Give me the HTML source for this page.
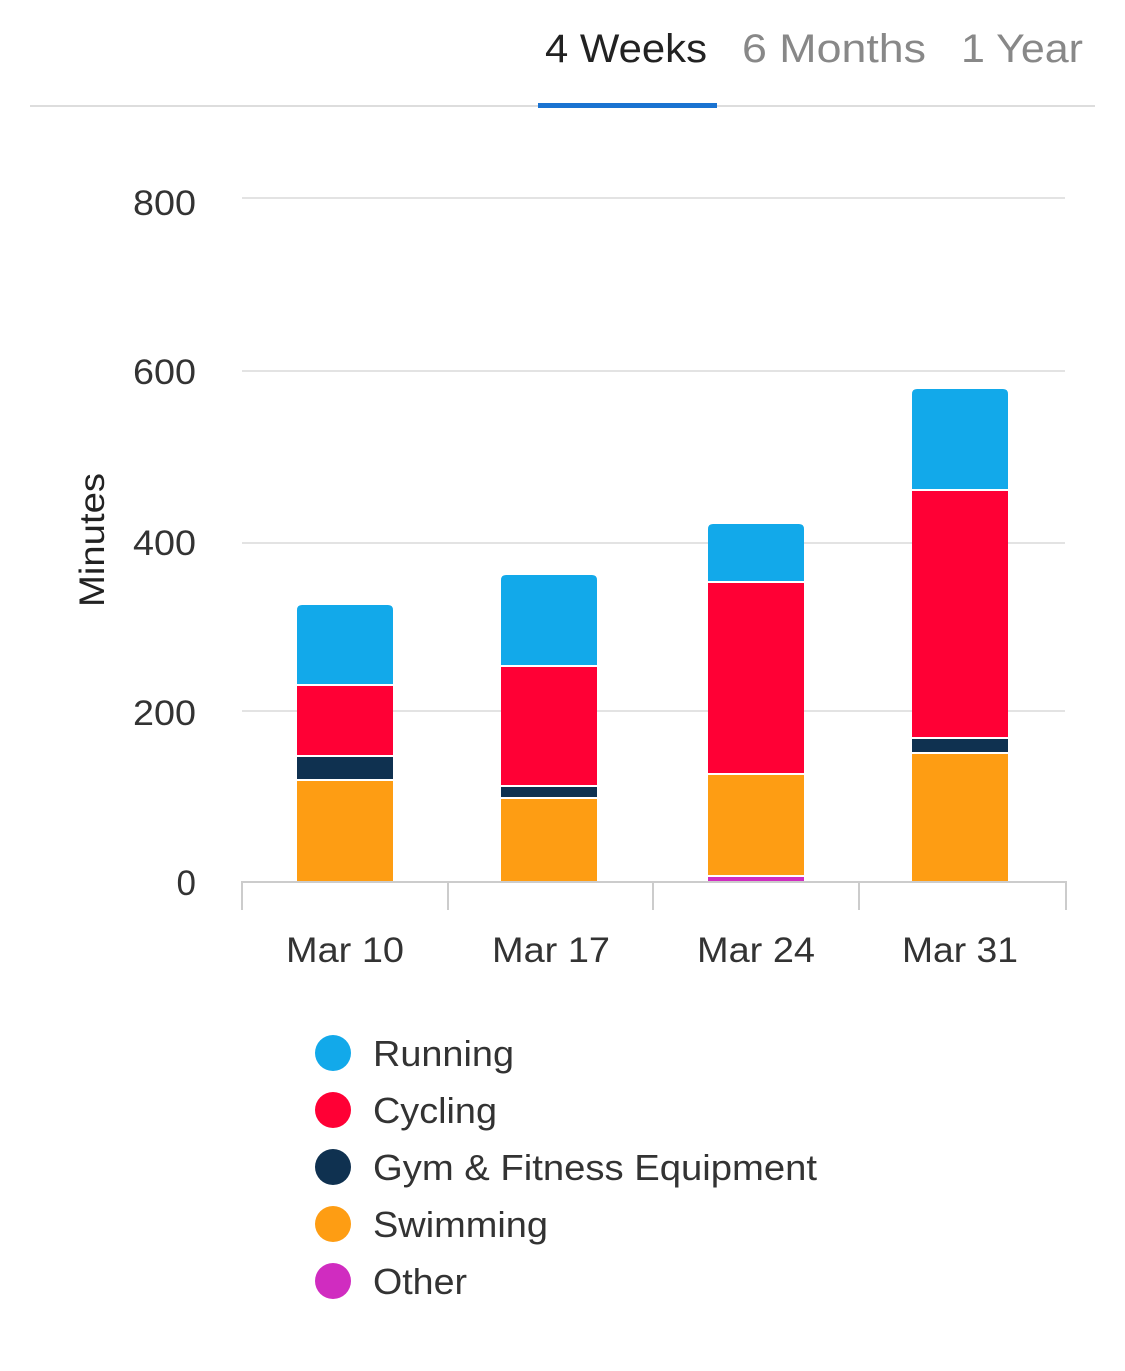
<!DOCTYPE html>
<html><head><meta charset="utf-8"><style>
html,body{margin:0;padding:0;background:#fff;}
svg{display:block;font-family:"Liberation Sans",sans-serif;}
</style></head><body>
<svg width="1125" height="1371" viewBox="0 0 1125 1371" xmlns="http://www.w3.org/2000/svg">
<text x="545" y="62" font-size="40" fill="#222" textLength="162" lengthAdjust="spacingAndGlyphs">4 Weeks</text>
<text x="742" y="62" font-size="40" fill="#888" textLength="184" lengthAdjust="spacingAndGlyphs">6 Months</text>
<text x="961" y="62" font-size="40" fill="#888" textLength="122" lengthAdjust="spacingAndGlyphs">1 Year</text>
<rect x="30" y="105" width="1065" height="2" fill="#ddd"/>
<rect x="538" y="103" width="179" height="5" fill="#1a73d1"/>
<g stroke="#e3e3e3" stroke-width="2">
<line x1="242" y1="198" x2="1065" y2="198"/>
<line x1="242" y1="371" x2="1065" y2="371"/>
<line x1="242" y1="543" x2="1065" y2="543"/>
<line x1="242" y1="711" x2="1065" y2="711"/>
</g>
<g font-size="35" fill="#333" text-anchor="end">
<text x="196" y="215" textLength="63" lengthAdjust="spacingAndGlyphs">800</text>
<text x="196" y="384" textLength="63" lengthAdjust="spacingAndGlyphs">600</text>
<text x="196" y="555" textLength="63" lengthAdjust="spacingAndGlyphs">400</text>
<text x="196" y="725" textLength="63" lengthAdjust="spacingAndGlyphs">200</text>
<text x="196" y="895">0</text>
</g>
<text transform="translate(104,540) rotate(-90)" font-size="35" fill="#222" text-anchor="middle" textLength="134" lengthAdjust="spacingAndGlyphs">Minutes</text>
<path d="M297,684 V610 q0,-5 5,-5 H388 q5,0 5,5 V684 Z" fill="#12a9ea"/>
<rect x="297" y="686" width="96" height="69" fill="#ff0035"/>
<rect x="297" y="757" width="96" height="22" fill="#0f3150"/>
<rect x="297" y="781" width="96" height="101" fill="#fe9d13"/>
<path d="M501,665 V580 q0,-5 5,-5 H592 q5,0 5,5 V665 Z" fill="#12a9ea"/>
<rect x="501" y="667" width="96" height="118" fill="#ff0035"/>
<rect x="501" y="787" width="96" height="10" fill="#0f3150"/>
<rect x="501" y="799" width="96" height="83" fill="#fe9d13"/>
<path d="M708,581 V529 q0,-5 5,-5 H799 q5,0 5,5 V581 Z" fill="#12a9ea"/>
<rect x="708" y="583" width="96" height="190" fill="#ff0035"/>
<rect x="708" y="775" width="96" height="100" fill="#fe9d13"/>
<rect x="708" y="877" width="96" height="5" fill="#d02cc0"/>
<path d="M912,489 V394 q0,-5 5,-5 H1003 q5,0 5,5 V489 Z" fill="#12a9ea"/>
<rect x="912" y="491" width="96" height="246" fill="#ff0035"/>
<rect x="912" y="739" width="96" height="13" fill="#0f3150"/>
<rect x="912" y="754" width="96" height="128" fill="#fe9d13"/>
<g stroke="#ccc" stroke-width="2">
<line x1="241" y1="882" x2="1067" y2="882"/>
<line x1="242" y1="882" x2="242" y2="910"/>
<line x1="448" y1="882" x2="448" y2="910"/>
<line x1="653" y1="882" x2="653" y2="910"/>
<line x1="859" y1="882" x2="859" y2="910"/>
<line x1="1066" y1="882" x2="1066" y2="910"/>
</g>
<g font-size="35" fill="#333" text-anchor="middle">
<text x="345" y="962" textLength="118" lengthAdjust="spacingAndGlyphs">Mar 10</text>
<text x="551" y="962" textLength="118" lengthAdjust="spacingAndGlyphs">Mar 17</text>
<text x="756" y="962" textLength="118" lengthAdjust="spacingAndGlyphs">Mar 24</text>
<text x="960" y="962" textLength="116" lengthAdjust="spacingAndGlyphs">Mar 31</text>
</g>
<g font-size="36" fill="#333">
<circle cx="333" cy="1053" r="18" fill="#12a9ea"/><text x="373" y="1066" textLength="141" lengthAdjust="spacingAndGlyphs">Running</text>
<circle cx="333" cy="1110" r="18" fill="#ff0035"/><text x="373" y="1123" textLength="124" lengthAdjust="spacingAndGlyphs">Cycling</text>
<circle cx="333" cy="1167" r="18" fill="#0f3150"/><text x="373" y="1180" textLength="444" lengthAdjust="spacingAndGlyphs">Gym &amp; Fitness Equipment</text>
<circle cx="333" cy="1224" r="18" fill="#fe9d13"/><text x="373" y="1237" textLength="175" lengthAdjust="spacingAndGlyphs">Swimming</text>
<circle cx="333" cy="1281" r="18" fill="#d02cc0"/><text x="373" y="1294" textLength="94" lengthAdjust="spacingAndGlyphs">Other</text>
</g>
</svg>
</body></html>
